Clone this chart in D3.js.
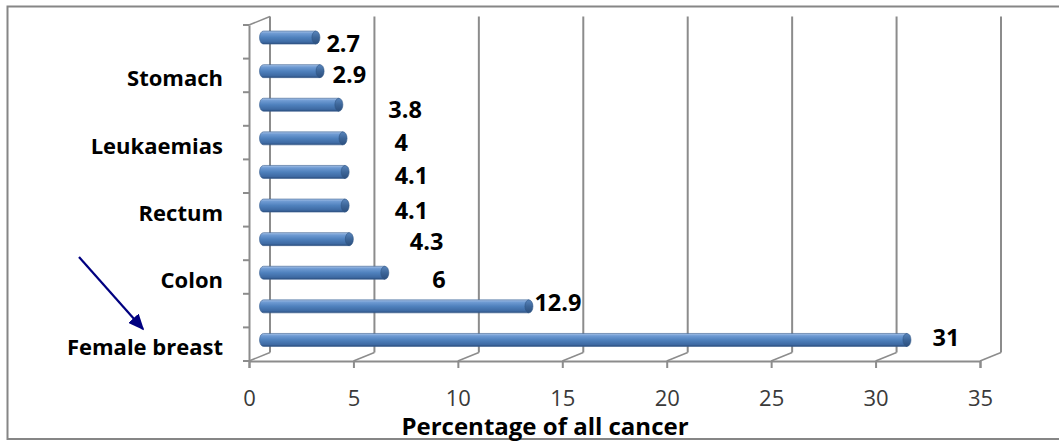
<!DOCTYPE html>
<html>
<head>
<meta charset="utf-8">
<script src="https://cdn.jsdelivr.net/npm/d3@7"></script>
<style>
  html, body { margin: 0; padding: 0; background: #fff; }
  svg { display: block; }
  text { font-family: "Open Sans", "DejaVu Sans", sans-serif; }
</style>
</head>
<body>
<svg id="chart" width="1059" height="442"></svg>
<script>
// ---- data (bottom to top) ----
const categories = ["Female breast", "", "Colon", "", "Rectum", "", "Leukaemias", "", "Stomach", ""];
const values = [31, 12.9, 6, 4.3, 4.1, 4.1, 4, 3.8, 2.9, 2.7];
const xTickValues = [0, 5, 10, 15, 20, 25, 30, 35];
const axisTitle = "Percentage of all cancer";

// ---- layout ----
const plot = { left: 249, right: 980, top: 25, bottom: 361 };
const depth = { dx: 21, dy: -8.5 };            // 3D back-wall offset
// manual label placement (px offsets from the bar end, as in the reference)
const labelNudge = [[36, -7], [16, -9], [58, 1.5], [71, -2], [60, 0], [60, -1.5], [62, -1], [60, 0], [23, -1], [21, 1]];

const svg = d3.select("#chart");
const defs = svg.append("defs");

const x = d3.scaleLinear().domain([0, 35]).range([plot.left, plot.right]);
const y = d3.scaleBand().domain(d3.range(values.length)).range([plot.bottom, plot.top]).paddingInner(0).paddingOuter(0);

// outer border
svg.append("rect").attr("x", 7.5).attr("y", 6.5).attr("width", 1070).attr("height", 432.5)
  .attr("fill", "#fff").attr("stroke", "#868686").attr("stroke-width", 2);

const grid = "#8c8c8c";
// back-wall gridlines
svg.append("g").selectAll("line").data(xTickValues).join("line")
  .attr("x1", d => x(d) + depth.dx).attr("x2", d => x(d) + depth.dx)
  .attr("y1", plot.top + depth.dy).attr("y2", plot.bottom + depth.dy)
  .attr("stroke", grid).attr("stroke-width", 2);
// floor diagonals
svg.append("g").selectAll("line").data(xTickValues).join("line")
  .attr("x1", d => x(d)).attr("x2", d => x(d) + depth.dx)
  .attr("y1", plot.bottom).attr("y2", plot.bottom + depth.dy)
  .attr("stroke", grid).attr("stroke-width", 1.5);
// side wall top diagonal
svg.append("line")
  .attr("x1", plot.left).attr("y1", plot.top)
  .attr("x2", plot.left + depth.dx).attr("y2", plot.top + depth.dy)
  .attr("stroke", grid).attr("stroke-width", 1.5);

// x axis (front)
const xAxis = d3.axisBottom(x).tickValues(xTickValues).tickSize(7).tickPadding(22).tickFormat(d3.format("d"));
const gx = svg.append("g").attr("transform", `translate(0,${plot.bottom})`).call(xAxis);
gx.select(".domain").attr("stroke", grid).attr("stroke-width", 2);
gx.selectAll(".tick line").attr("stroke", grid).attr("stroke-width", 2);
gx.selectAll(".tick text").attr("font-size", 22).attr("fill", "#3a3a3a")
  .attr("font-family", "'Open Sans', sans-serif");

// y axis (front)
const gy = svg.append("g").attr("transform", `translate(${plot.left},0)`)
  .call(d3.axisLeft(y).tickSize(0).tickFormat(""));
gy.select(".domain").attr("stroke", grid).attr("stroke-width", 2);
gy.selectAll(".tick").remove();
// category boundary ticks
const bounds = d3.range(values.length + 1).map(i => i === values.length ? plot.top : y(i) + y.bandwidth());
gy.append("g").selectAll("line").data(bounds).join("line")
  .attr("x1", -6).attr("x2", 0).attr("y1", d => d).attr("y2", d => d)
  .attr("stroke", grid).attr("stroke-width", 2);

// category labels
svg.append("g").selectAll("text").data(categories).join("text")
  .attr("x", 223).attr("y", (d, i) => y(i) + y.bandwidth() / 2 + 2)
  .attr("text-anchor", "end").attr("dominant-baseline", "central")
  .attr("font-size", 22).attr("font-weight", "bold").attr("fill", "#000")
  .text(d => d);

// bar gradients
const gBody = defs.append("linearGradient").attr("id", "barBody").attr("x1", 0).attr("y1", 0).attr("x2", 0).attr("y2", 1);
[["0%", "#a9c4e8"], ["18%", "#6f9bd3"], ["50%", "#4f81bd"], ["85%", "#3e6aa3"], ["100%", "#2a4d7c"]]
  .forEach(([o, c]) => gBody.append("stop").attr("offset", o).attr("stop-color", c));
const gCap = defs.append("linearGradient").attr("id", "barCap").attr("x1", 0).attr("y1", 0).attr("x2", 0).attr("y2", 1);
[["0%", "#5a86bd"], ["50%", "#3d6699"], ["100%", "#2c4f7e"]]
  .forEach(([o, c]) => gCap.append("stop").attr("offset", o).attr("stop-color", c));

// bars (cylinders)
const barH = 13, rx = 4;
const bx = d => x(d) + depth.dx / 2;
const by = i => y(i) + y.bandwidth() / 2 + depth.dy / 2 - barH / 2;
const bars = svg.append("g").selectAll("g").data(values).join("g");
bars.append("path")
  .attr("d", (d, i) => {
    const x0 = bx(0), x1 = bx(d), t = by(i), b = t + barH;
    return `M${x1},${t} L${x0 + rx},${t} A${rx},${barH / 2} 0 0 0 ${x0 + rx},${b} L${x1},${b} Z`;
  })
  .attr("fill", "url(#barBody)").attr("stroke", "#3a6090").attr("stroke-width", 0.6);
bars.append("ellipse")
  .attr("cx", d => bx(d)).attr("cy", (d, i) => by(i) + barH / 2)
  .attr("rx", rx).attr("ry", barH / 2)
  .attr("fill", "url(#barCap)").attr("stroke", "#2f5585").attr("stroke-width", 0.6);

// value labels
svg.append("g").selectAll("text").data(values).join("text")
  .attr("x", (d, i) => x(d) + labelNudge[i][0])
  .attr("y", (d, i) => y(i) + y.bandwidth() / 2 + labelNudge[i][1])
  .attr("dominant-baseline", "central")
  .attr("font-size", 23.5).attr("font-weight", "bold").attr("fill", "#000")
  .text(d => d);

// axis title
svg.append("text").attr("x", 545).attr("y", 435).attr("text-anchor", "middle")
  .attr("font-size", 24).attr("font-weight", "bold").attr("fill", "#000")
  .text(axisTitle);

// annotation arrow
defs.append("marker").attr("id", "arrowHead").attr("viewBox", "0 0 10 10")
  .attr("refX", 9).attr("refY", 5).attr("markerWidth", 16).attr("markerHeight", 14)
  .attr("markerUnits", "userSpaceOnUse").attr("orient", "auto")
  .attr("preserveAspectRatio", "none")
  .append("path").attr("d", "M0,0 L10,5 L0,10 Z").attr("fill", "#000080");
svg.append("line").attr("x1", 79).attr("y1", 257).attr("x2", 143).attr("y2", 329)
  .attr("stroke", "#000080").attr("stroke-width", 2.2).attr("marker-end", "url(#arrowHead)");
</script>
</body>
</html>
